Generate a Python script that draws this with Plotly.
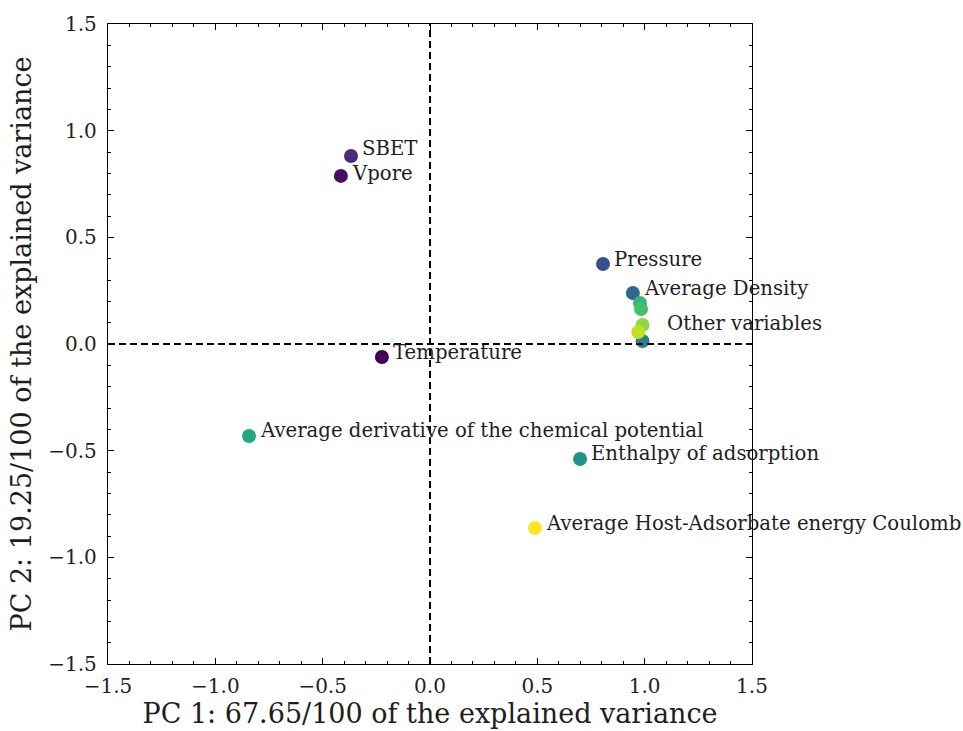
import plotly.graph_objects as go

# PCA loadings of each variable on the first two principal components
labels = [
    "Temperature", "Vpore", "SBET", "Pressure", "Average Density",
    "Other variables", "Average derivative of the chemical potential",
    "Enthalpy of adsorption", "Other variables", "Other variables",
    "Other variables", "Other variables", "Average Host-Adsorbate energy Coulomb",
]
pc1 = [-0.224, -0.415, -0.368, 0.806, 0.945, 0.990, -0.843, 0.699,
       0.978, 0.983, 0.990, 0.970, 0.489]
pc2 = [-0.061, 0.788, 0.881, 0.375, 0.239, 0.014, -0.431, -0.539,
       0.192, 0.164, 0.089, 0.056, -0.863]
colors = ["#440154", "#471063", "#472d7b", "#3b4f8a", "#31688e", "#26828e",
          "#22a884", "#21918c", "#35b779", "#44bf70", "#8fd744", "#c2df23",
          "#fde725"]

# which variables carry their own text label, with a small vertical nudge
named = {"Temperature": 5, "Vpore": 2, "SBET": 8, "Pressure": 5,
         "Average Density": 5,
         "Average derivative of the chemical potential": 5,
         "Enthalpy of adsorption": 5,
         "Average Host-Adsorbate energy Coulomb": 5}

x_title = "PC 1: 67.65/100 of the explained variance"
y_title = "PC 2: 19.25/100 of the explained variance"

FONT = "DejaVu Serif"
TEXT = "#1e1e1e"

fig = go.Figure()

# dashed reference axes through the origin
fig.add_shape(type="line", xref="x", yref="paper", x0=0, x1=0, y0=0, y1=1,
              line=dict(color="black", width=2, dash="7px,4px"), layer="above")
fig.add_shape(type="line", xref="paper", yref="y", x0=0, x1=1, y0=0, y1=0,
              line=dict(color="black", width=2, dash="7px,4px"), layer="above")

fig.add_trace(go.Scatter(
    x=pc1, y=pc2, mode="markers",
    marker=dict(size=14, color=colors, line=dict(width=0)),
    hovertext=labels, hoverinfo="text", showlegend=False,
))

for name, xv, yv in zip(labels, pc1, pc2):
    if name in named:
        fig.add_annotation(x=xv, y=yv, text=name, showarrow=False,
                           xanchor="left", yanchor="middle",
                           xshift=9, yshift=named[name],
                           font=dict(family=FONT, size=19.7, color=TEXT))

# one shared label for the tight cluster near PC1 = 1
fig.add_annotation(x=pc1[10], y=pc2[10], text="Other variables",
                   showarrow=False, xanchor="left", yanchor="middle",
                   xshift=22, yshift=2,
                   font=dict(family=FONT, size=19.7, color=TEXT))

axis_common = dict(
    range=[-1.5, 1.5], dtick=0.5, tickformat=".1f",
    showgrid=False, zeroline=False, automargin=False,
    showline=True, linecolor="black", linewidth=1.3, mirror="ticks",
    ticks="inside", ticklen=6, tickwidth=1.2, tickcolor="black",
    minor=dict(dtick=0.1, ticks="inside", ticklen=3, tickwidth=1,
               tickcolor="black", showgrid=False),
    tickfont=dict(family=FONT, size=20, color=TEXT),
)

fig.update_xaxes(**axis_common, ticklabelstandoff=4,
                 title=dict(text=x_title, standoff=6,
                            font=dict(family=FONT, size=27, color=TEXT)))
fig.update_yaxes(**axis_common, ticklabelstandoff=6,
                 title=dict(text=y_title, standoff=8,
                            font=dict(family=FONT, size=27, color=TEXT)))

fig.update_layout(
    width=963, height=731,
    margin=dict(l=108, r=211, t=24, b=67),
    plot_bgcolor="white", paper_bgcolor="white",
)

fig.write_html("out.html")
